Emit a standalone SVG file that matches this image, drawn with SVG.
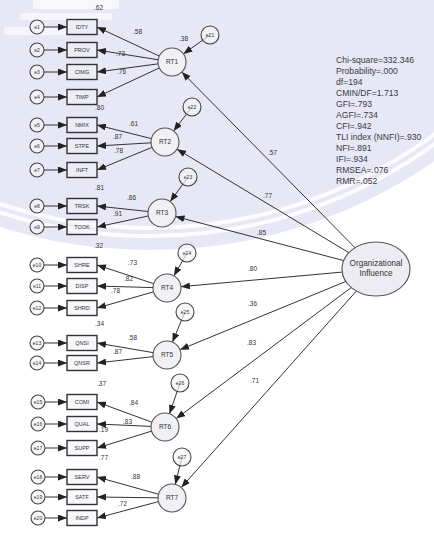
<svg xmlns="http://www.w3.org/2000/svg" width="434" height="556" viewBox="0 0 434 556">
  <defs>
    <marker id="arr" viewBox="0 0 9 7" refX="9" refY="3.5" markerWidth="9" markerHeight="7" markerUnits="userSpaceOnUse" orient="auto">
      <path d="M0,0 L9,3.5 L0,7 z" fill="#222"/>
    </marker>
    <style>
      .wm { fill: #e7e7f6; }
      .wmline { fill: none; stroke: #ffffff; stroke-width: 4; opacity: 0.85; }
      .c { stroke: #333; stroke-width: 1; fill: none; marker-end: url(#arr); }
      .box { fill: #f3f3f9; fill-opacity: 0.55; stroke: #333; stroke-width: 1.4; }
      .err { fill: #f4f4f8; fill-opacity: 0.7; stroke: #444; stroke-width: 1.1; }
      .lat { fill: #f0f0f5; stroke: #555; stroke-width: 1.1; }
      .big { fill: #ececf2; stroke: #555; stroke-width: 1.1; }
      text { font-family: "Liberation Sans", Arial, sans-serif; fill: #333; }
      .t5 { font-size: 5px; text-anchor: middle; }
      .ti { font-size: 5.5px; text-anchor: middle; }
      .tl { font-size: 6.5px; text-anchor: middle; }
      .n { font-size: 6.5px; }
      .fit { font-size: 8.6px; fill: #3a3a44; }
      .bigt { font-size: 8.2px; text-anchor: middle; }
    </style>
  </defs>

  <rect width="434" height="556" fill="#ffffff"/>

  <!-- pale emblem in the background -->
  <g id="watermark">
    <circle class="wm" cx="150" cy="-250" r="500"/>
    <circle class="wmline" cx="150" cy="-250" r="486"/>
    <circle class="wmline" cx="150" cy="-250" r="478" stroke-width="2"/>
    <rect x="33" y="0" width="86" height="9" rx="2" fill="#ffffff" opacity="0.7"/>
    <rect x="20" y="13" width="92" height="7" rx="2" fill="#ffffff" opacity="0.6"/>
    <rect x="4" y="27" width="62" height="8" rx="2" fill="#ffffff" opacity="0.6"/>
  </g>

  <!-- connectors -->
  <g id="connectors">
    <!-- error terms to indicators -->
    <line class="c" x1="44" y1="27" x2="67" y2="27"/>
    <line class="c" x1="44" y1="50" x2="67" y2="50"/>
    <line class="c" x1="44" y1="72" x2="67" y2="72"/>
    <line class="c" x1="44" y1="97" x2="67" y2="97"/>
    <line class="c" x1="44" y1="125" x2="67" y2="125"/>
    <line class="c" x1="44" y1="146" x2="67" y2="146"/>
    <line class="c" x1="44" y1="170" x2="67" y2="170"/>
    <line class="c" x1="44" y1="206" x2="67" y2="206"/>
    <line class="c" x1="44" y1="227" x2="67" y2="227"/>
    <line class="c" x1="44" y1="265" x2="67" y2="265"/>
    <line class="c" x1="44" y1="286" x2="67" y2="286"/>
    <line class="c" x1="44" y1="308" x2="67" y2="308"/>
    <line class="c" x1="44" y1="343" x2="67" y2="343"/>
    <line class="c" x1="44" y1="363" x2="67" y2="363"/>
    <line class="c" x1="45" y1="402" x2="67" y2="402"/>
    <line class="c" x1="45" y1="424" x2="67" y2="424"/>
    <line class="c" x1="45" y1="448" x2="67" y2="448"/>
    <line class="c" x1="45" y1="477" x2="67" y2="477"/>
    <line class="c" x1="45" y1="497" x2="67" y2="497"/>
    <line class="c" x1="45" y1="518" x2="67" y2="518"/>

    <!-- latent factors to indicators -->
    <line class="c" x1="172" y1="62" x2="97" y2="27"/>
    <line class="c" x1="172" y1="62" x2="97" y2="50"/>
    <line class="c" x1="172" y1="62" x2="97" y2="72"/>
    <line class="c" x1="172" y1="62" x2="97" y2="97"/>
    <line class="c" x1="165" y1="142" x2="97" y2="125"/>
    <line class="c" x1="165" y1="142" x2="97" y2="146"/>
    <line class="c" x1="165" y1="142" x2="97" y2="170"/>
    <line class="c" x1="162" y1="213" x2="97" y2="206"/>
    <line class="c" x1="162" y1="213" x2="97" y2="227"/>
    <line class="c" x1="167" y1="288" x2="97" y2="265"/>
    <line class="c" x1="167" y1="288" x2="97" y2="286"/>
    <line class="c" x1="167" y1="288" x2="97" y2="308"/>
    <line class="c" x1="167" y1="355" x2="97" y2="343"/>
    <line class="c" x1="167" y1="355" x2="97" y2="363"/>
    <line class="c" x1="165" y1="427" x2="97" y2="402"/>
    <line class="c" x1="165" y1="427" x2="97" y2="424"/>
    <line class="c" x1="165" y1="427" x2="97" y2="448"/>
    <line class="c" x1="172" y1="498" x2="97" y2="477"/>
    <line class="c" x1="172" y1="498" x2="97" y2="497"/>
    <line class="c" x1="172" y1="498" x2="97" y2="518"/>

    <!-- residuals to latent factors -->
    <line class="c" x1="210" y1="35" x2="183.4" y2="53.9"/>
    <line class="c" x1="192" y1="107" x2="173.6" y2="130.9"/>
    <line class="c" x1="188" y1="177" x2="170.2" y2="201.6"/>
    <line class="c" x1="187" y1="253" x2="173.9" y2="275.8"/>
    <line class="c" x1="185" y1="312" x2="172.4" y2="342.1"/>
    <line class="c" x1="180" y1="383" x2="169.5" y2="413.8"/>
    <line class="c" x1="182" y1="457" x2="175.3" y2="484.4"/>

    <!-- second-order factor to first-order factors -->
    <line class="c" x1="376" y1="269" x2="181.8" y2="72.0"/>
    <line class="c" x1="376" y1="269" x2="177.0" y2="149.2"/>
    <line class="c" x1="376" y1="269" x2="175.5" y2="216.5"/>
    <line class="c" x1="376" y1="269" x2="180.9" y2="286.7"/>
    <line class="c" x1="376" y1="269" x2="180.0" y2="349.7"/>
    <line class="c" x1="376" y1="269" x2="176.2" y2="418.6"/>
    <line class="c" x1="376" y1="269" x2="181.3" y2="487.5"/>
  </g>

  <!-- error terms -->
  <g id="e1"><circle class="err" cx="37" cy="27" r="7"/><text class="t5" x="37" y="28.8">e1</text></g>
  <g id="e2"><circle class="err" cx="37" cy="50" r="7"/><text class="t5" x="37" y="51.8">e2</text></g>
  <g id="e3"><circle class="err" cx="37" cy="72" r="7"/><text class="t5" x="37" y="73.8">e3</text></g>
  <g id="e4"><circle class="err" cx="37" cy="97" r="7"/><text class="t5" x="37" y="98.8">e4</text></g>
  <g id="e5"><circle class="err" cx="37" cy="125" r="7"/><text class="t5" x="37" y="126.8">e5</text></g>
  <g id="e6"><circle class="err" cx="37" cy="146" r="7"/><text class="t5" x="37" y="147.8">e6</text></g>
  <g id="e7"><circle class="err" cx="37" cy="170" r="7"/><text class="t5" x="37" y="171.8">e7</text></g>
  <g id="e8"><circle class="err" cx="37" cy="206" r="7"/><text class="t5" x="37" y="207.8">e8</text></g>
  <g id="e9"><circle class="err" cx="37" cy="227" r="7"/><text class="t5" x="37" y="228.8">e9</text></g>
  <g id="e10"><circle class="err" cx="37" cy="265" r="7"/><text class="t5" x="37" y="266.8">e10</text></g>
  <g id="e11"><circle class="err" cx="37" cy="286" r="7"/><text class="t5" x="37" y="287.8">e11</text></g>
  <g id="e12"><circle class="err" cx="37" cy="308" r="7"/><text class="t5" x="37" y="309.8">e12</text></g>
  <g id="e13"><circle class="err" cx="37" cy="343" r="7"/><text class="t5" x="37" y="344.8">e13</text></g>
  <g id="e14"><circle class="err" cx="37" cy="363" r="7"/><text class="t5" x="37" y="364.8">e14</text></g>
  <g id="e15"><circle class="err" cx="38" cy="402" r="7"/><text class="t5" x="38" y="403.8">e15</text></g>
  <g id="e16"><circle class="err" cx="38" cy="424" r="7"/><text class="t5" x="38" y="425.8">e16</text></g>
  <g id="e17"><circle class="err" cx="38" cy="448" r="7"/><text class="t5" x="38" y="449.8">e17</text></g>
  <g id="e18"><circle class="err" cx="38" cy="477" r="7"/><text class="t5" x="38" y="478.8">e18</text></g>
  <g id="e19"><circle class="err" cx="38" cy="497" r="7"/><text class="t5" x="38" y="498.8">e19</text></g>
  <g id="e20"><circle class="err" cx="38" cy="518" r="7"/><text class="t5" x="38" y="519.8">e20</text></g>

  <!-- observed indicators -->
  <g id="x1"><rect class="box" x="67" y="19.5" width="30" height="15"/><text class="ti" x="82" y="29">IDTY</text></g>
  <g id="x2"><rect class="box" x="67" y="42.5" width="30" height="15"/><text class="ti" x="82" y="52">PROV</text></g>
  <g id="x3"><rect class="box" x="67" y="64.5" width="30" height="15"/><text class="ti" x="82" y="74">CIMG</text></g>
  <g id="x4"><rect class="box" x="67" y="89.5" width="30" height="15"/><text class="ti" x="82" y="99">TIMP</text></g>
  <g id="x5"><rect class="box" x="67" y="117.5" width="30" height="15"/><text class="ti" x="82" y="127">NMIX</text></g>
  <g id="x6"><rect class="box" x="67" y="138.5" width="30" height="15"/><text class="ti" x="82" y="148">STPE</text></g>
  <g id="x7"><rect class="box" x="67" y="162.5" width="30" height="15"/><text class="ti" x="82" y="172">INFT</text></g>
  <g id="x8"><rect class="box" x="67" y="198.5" width="30" height="15"/><text class="ti" x="82" y="208">TRSK</text></g>
  <g id="x9"><rect class="box" x="67" y="219.5" width="30" height="15"/><text class="ti" x="82" y="229">TOOK</text></g>
  <g id="x10"><rect class="box" x="67" y="257.5" width="30" height="15"/><text class="ti" x="82" y="267">SHRE</text></g>
  <g id="x11"><rect class="box" x="67" y="278.5" width="30" height="15"/><text class="ti" x="82" y="288">DISP</text></g>
  <g id="x12"><rect class="box" x="67" y="300.5" width="30" height="15"/><text class="ti" x="82" y="310">SHRD</text></g>
  <g id="x13"><rect class="box" x="67" y="335.5" width="30" height="15"/><text class="ti" x="82" y="345">QNSI</text></g>
  <g id="x14"><rect class="box" x="67" y="355.5" width="30" height="15"/><text class="ti" x="82" y="365">QNSR</text></g>
  <g id="x15"><rect class="box" x="67" y="394.5" width="30" height="15"/><text class="ti" x="82" y="404">COMI</text></g>
  <g id="x16"><rect class="box" x="67" y="416.5" width="30" height="15"/><text class="ti" x="82" y="426">QUAL</text></g>
  <g id="x17"><rect class="box" x="67" y="440.5" width="30" height="15"/><text class="ti" x="82" y="450">SUPP</text></g>
  <g id="x18"><rect class="box" x="67" y="469.5" width="30" height="15"/><text class="ti" x="82" y="479">SERV</text></g>
  <g id="x19"><rect class="box" x="67" y="489.5" width="30" height="15"/><text class="ti" x="82" y="499">SATF</text></g>
  <g id="x20"><rect class="box" x="67" y="510.5" width="30" height="15"/><text class="ti" x="82" y="520">INDP</text></g>

  <!-- first-order factors -->
  <g id="RT1"><circle class="lat" cx="172" cy="62" r="14"/><text class="tl" x="172" y="64.3">RT1</text></g>
  <g id="RT2"><circle class="lat" cx="165" cy="142" r="14"/><text class="tl" x="165" y="144.3">RT2</text></g>
  <g id="RT3"><circle class="lat" cx="162" cy="213" r="14"/><text class="tl" x="162" y="215.3">RT3</text></g>
  <g id="RT4"><circle class="lat" cx="167" cy="288" r="14"/><text class="tl" x="167" y="290.3">RT4</text></g>
  <g id="RT5"><circle class="lat" cx="167" cy="355" r="14"/><text class="tl" x="167" y="357.3">RT5</text></g>
  <g id="RT6"><circle class="lat" cx="165" cy="427" r="14"/><text class="tl" x="165" y="429.3">RT6</text></g>
  <g id="RT7"><circle class="lat" cx="172" cy="498" r="14"/><text class="tl" x="172" y="500.3">RT7</text></g>

  <!-- residuals of first-order factors -->
  <g id="e21"><circle class="err" cx="210" cy="35" r="9"/><text class="t5" x="210" y="36.8">e21</text></g>
  <g id="e22"><circle class="err" cx="192" cy="107" r="9"/><text class="t5" x="192" y="108.8">e22</text></g>
  <g id="e23"><circle class="err" cx="188" cy="177" r="9"/><text class="t5" x="188" y="178.8">e23</text></g>
  <g id="e24"><circle class="err" cx="187" cy="253" r="9"/><text class="t5" x="187" y="254.8">e24</text></g>
  <g id="e25"><circle class="err" cx="185" cy="312" r="9"/><text class="t5" x="185" y="313.8">e25</text></g>
  <g id="e26"><circle class="err" cx="180" cy="383" r="9"/><text class="t5" x="180" y="384.8">e26</text></g>
  <g id="e27"><circle class="err" cx="182" cy="457" r="9"/><text class="t5" x="182" y="458.8">e27</text></g>

  <!-- second-order factor -->
  <g id="OI">
    <ellipse class="big" cx="376" cy="269" rx="34" ry="27"/>
    <text class="bigt" x="376" y="266">Organizational</text>
    <text class="bigt" x="376" y="276">Influence</text>
  </g>

  <!-- standardized estimates -->
  <g id="estimates">
    <text class="n" x="94" y="10">.62</text>
    <text class="n" x="133" y="34">.58</text>
    <text class="n" x="116" y="56">.73</text>
    <text class="n" x="117" y="74">.76</text>
    <text class="n" x="179" y="41">.38</text>
    <text class="n" x="95" y="110">.80</text>
    <text class="n" x="129" y="126">.61</text>
    <text class="n" x="113" y="139">.87</text>
    <text class="n" x="114" y="153">.78</text>
    <text class="n" x="95" y="190">.81</text>
    <text class="n" x="127" y="200">.86</text>
    <text class="n" x="113" y="216">.91</text>
    <text class="n" x="94" y="248">.32</text>
    <text class="n" x="128" y="265">.73</text>
    <text class="n" x="124" y="281">.82</text>
    <text class="n" x="111" y="293">.78</text>
    <text class="n" x="95" y="326">.34</text>
    <text class="n" x="128" y="340">.58</text>
    <text class="n" x="113" y="354">.87</text>
    <text class="n" x="97" y="386">.37</text>
    <text class="n" x="129" y="405">.84</text>
    <text class="n" x="123" y="424">.83</text>
    <text class="n" x="99" y="432">.19</text>
    <text class="n" x="99" y="460">.77</text>
    <text class="n" x="131" y="479">.88</text>
    <text class="n" x="118" y="506">.72</text>
    <text class="n" x="268" y="155">.57</text>
    <text class="n" x="263" y="198">.77</text>
    <text class="n" x="257" y="235">.85</text>
    <text class="n" x="248" y="271">.80</text>
    <text class="n" x="248" y="306">.36</text>
    <text class="n" x="247" y="345">.83</text>
    <text class="n" x="250" y="383">.71</text>
  </g>

  <!-- goodness-of-fit summary -->
  <g id="fit">
    <text class="fit" x="336" y="63">Chi-square=332.346</text>
    <text class="fit" x="336" y="74">Probability=.000</text>
    <text class="fit" x="336" y="85">df=194</text>
    <text class="fit" x="336" y="96">CMIN/DF=1.713</text>
    <text class="fit" x="336" y="107">GFI=.793</text>
    <text class="fit" x="336" y="118">AGFI=.734</text>
    <text class="fit" x="336" y="129">CFI=.942</text>
    <text class="fit" x="336" y="140">TLI index (NNFI)=.930</text>
    <text class="fit" x="336" y="151">NFI=.891</text>
    <text class="fit" x="336" y="162">IFI=.934</text>
    <text class="fit" x="336" y="173">RMSEA=.076</text>
    <text class="fit" x="336" y="184">RMR=.052</text>
  </g>
</svg>
